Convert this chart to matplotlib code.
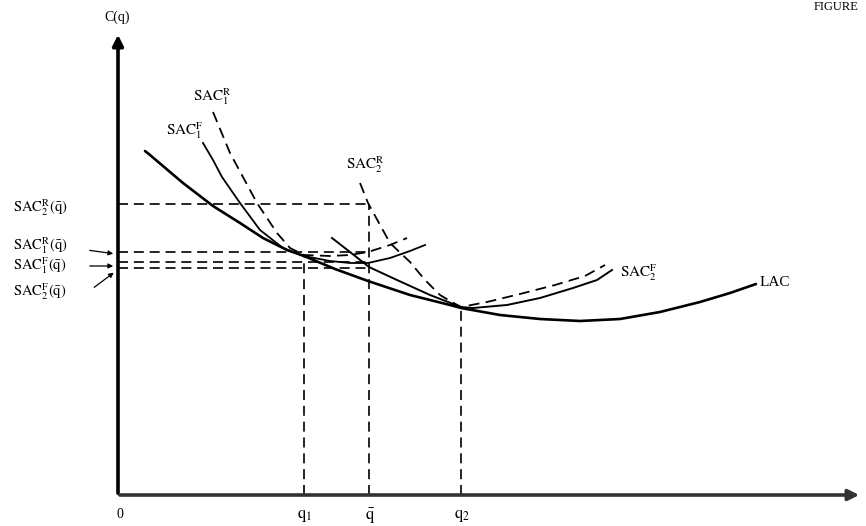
import matplotlib
matplotlib.use("Agg")
import matplotlib.pyplot as plt

plt.rcParams['mathtext.fontset'] = 'stix'
plt.rcParams['font.family'] = ['Liberation Serif', 'DejaVu Serif']

# curve points (q, cost)
lac_q = [27, 32, 65, 95, 122, 145, 169, 186, 217, 250, 292, 332, 343, 382, 422, 462, 502, 542, 582, 612, 638]
lac_c = [344, 340, 312, 289, 272, 257, 245, 239, 226, 214, 200, 190, 187, 180, 176, 174, 176, 183, 193, 202, 211]

sac1f_q = [85, 95, 104, 122, 142, 165, 175, 186, 212, 232, 250, 272, 292, 307]
sac1f_c = [352, 335, 318, 292, 265, 247, 243, 239, 234, 232, 232, 237, 244, 250]

sac1r_q = [95, 112, 139, 159, 172, 186, 212, 232, 250, 272, 289]
sac1r_c = [383, 342, 292, 262, 247, 240, 239, 240, 243, 250, 257]

sac2r_q = [242, 250, 272, 292, 307, 322, 332, 343, 369, 402, 437, 467, 487]
sac2r_c = [312, 292, 252, 233, 215, 200, 194, 188, 193, 201, 210, 219, 230]

sac2f_q = [214, 232, 251, 279, 312, 343, 355, 389, 422, 455, 479, 494]
sac2f_c = [257, 243, 228, 215, 200, 188, 187, 190, 197, 207, 215, 225]

# outputs on the q axis and cost levels at q-bar
q_ticks = [186, 251, 343]
q_labels = [r'$\mathrm{q}_1$', r'$\bar{\mathrm{q}}$', r'$\mathrm{q}_2$']
q_tops = [239, 291, 187]
qbar_levels = [291, 243, 233, 227]
level_labels = [r'$\mathrm{SAC}_2^{\mathrm{R}}(\bar{\mathrm{q}})$', r'$\mathrm{SAC}_1^{\mathrm{R}}(\bar{\mathrm{q}})$',
                r'$\mathrm{SAC}_1^{\mathrm{F}}(\bar{\mathrm{q}})$', r'$\mathrm{SAC}_2^{\mathrm{F}}(\bar{\mathrm{q}})$']
level_label_y = [287, 249, 229, 203]

fig = plt.figure(figsize=(8.66, 5.26), dpi=100)
ax = fig.add_axes([0, 0, 1, 1])
ax.set_xlim(-118, 748)
ax.set_ylim(-31, 495)
ax.axis('off')

dash = (0, (6, 3.5))
fs = 11

# axes with arrows
ax.annotate('', xy=(0, 463), xytext=(0, -1),
            arrowprops=dict(arrowstyle='-|>', lw=2.6, color='black', mutation_scale=16))
ax.annotate('', xy=(744, 0), xytext=(-1, 0),
            arrowprops=dict(arrowstyle='-|>', lw=2.6, color='#333333', mutation_scale=16))

# curves
ax.plot(lac_q, lac_c, color='black', lw=1.9, solid_capstyle='round')
ax.plot(sac1f_q, sac1f_c, color='black', lw=1.3)
ax.plot(sac2f_q, sac2f_c, color='black', lw=1.4)
ax.plot(sac1r_q, sac1r_c, color='black', lw=1.3, ls=dash)
ax.plot(sac2r_q, sac2r_c, color='black', lw=1.3, ls=dash)

# dashed guides
for lev in qbar_levels:
    ax.plot([0, q_ticks[1]], [lev, lev], color='black', lw=1.2, ls=dash)
for q, top in zip(q_ticks, q_tops):
    ax.plot([q, q], [0, top], color='black', lw=1.2, ls=dash)

# axis labels
ax.text(-1, 478, 'C(q)', fontsize=10, ha='center', va='center')
ax.text(2, -20, '0', fontsize=10, ha='center', va='center')
for q, lab in zip(q_ticks, q_labels):
    ax.text(q + 1, -21, lab, fontsize=fs + 1, ha='center', va='center')

# curve labels
ax.text(94, 398, r'$\mathrm{SAC}_1^{\mathrm{R}}$', fontsize=fs, ha='center', va='center')
ax.text(67, 364, r'$\mathrm{SAC}_1^{\mathrm{F}}$', fontsize=fs, ha='center', va='center')
ax.text(247, 330, r'$\mathrm{SAC}_2^{\mathrm{R}}$', fontsize=fs, ha='center', va='center')
ax.text(502, 222, r'$\mathrm{SAC}_2^{\mathrm{F}}$', fontsize=fs, ha='left', va='center')
ax.text(642, 213, 'LAC', fontsize=fs, ha='left', va='center')

# level labels on the cost axis
for lab, y in zip(level_labels, level_label_y):
    ax.text(-105, y, lab, fontsize=10.5, ha='left', va='center')
arrow_kw = dict(arrowstyle='-|>', lw=0.9, color='black', mutation_scale=7)
ax.annotate('', xy=(-2, 241), xytext=(-31, 245), arrowprops=arrow_kw)
ax.annotate('', xy=(-2, 229), xytext=(-31, 229), arrowprops=arrow_kw)
ax.annotate('', xy=(-2, 224), xytext=(-26, 206), arrowprops=arrow_kw)

fig.text(0.965, 0.998, 'FIGURE', fontsize=9, ha='center', va='top')

fig.savefig('out.png', dpi=100)
